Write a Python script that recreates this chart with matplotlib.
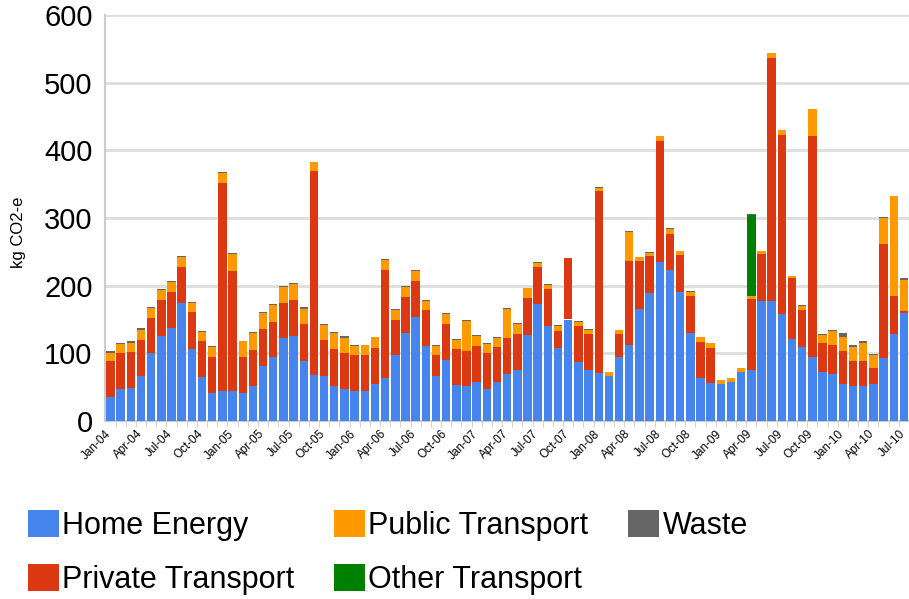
import numpy as np
import matplotlib
matplotlib.use("Agg")
import matplotlib.pyplot as plt
import matplotlib.transforms as mtrans

plt.rcParams["font.family"] = ["Liberation Sans", "DejaVu Sans"]

## monthly footprint, Jan-04 .. Jul-10 (kg CO2-e)
months = [
    "Jan-04", "Feb-04", "Mar-04", "Apr-04", "May-04", "Jun-04", "Jul-04", "Aug-04", "Sep-04", "Oct-04", "Nov-04", "Dec-04",
    "Jan-05", "Feb-05", "Mar-05", "Apr-05", "May-05", "Jun-05", "Jul-05", "Aug-05", "Sep-05", "Oct-05", "Nov-05", "Dec-05",
    "Jan-06", "Feb-06", "Mar-06", "Apr-06", "May-06", "Jun-06", "Jul-06", "Aug-06", "Sep-06", "Oct-06", "Nov-06", "Dec-06",
    "Jan-07", "Feb-07", "Mar-07", "Apr-07", "May-07", "Jun-07", "Jul-07", "Aug-07", "Sep-07", "Oct-07", "Nov-07", "Dec-07",
    "Jan-08", "Feb-08", "Mar-08", "Apr-08", "May-08", "Jun-08", "Jul-08", "Aug-08", "Sep-08", "Oct-08", "Nov-08", "Dec-08",
    "Jan-09", "Feb-09", "Mar-09", "Apr-09", "May-09", "Jun-09", "Jul-09", "Aug-09", "Sep-09", "Oct-09", "Nov-09", "Dec-09",
    "Jan-10", "Feb-10", "Mar-10", "Apr-10", "May-10", "Jun-10", "Jul-10",
]

home = [
    35, 47, 49, 66, 100, 126, 138, 175, 106, 65, 42, 45,
    45, 41, 52, 81, 94, 122, 126, 89, 68, 66, 52, 48,
    44, 44, 55, 63, 97, 130, 153, 111, 67, 90, 53, 51,
    58, 48, 57, 70, 76, 127, 173, 141, 108, 150, 87, 75,
    71, 66, 94, 113, 165, 189, 235, 223, 191, 130, 63, 56,
    55, 57, 73, 76, 177, 177, 158, 121, 110, 94, 73, 70,
    54, 52, 52, 54, 93, 128, 160,
]
private = [
    53, 53, 53, 54, 52, 53, 53, 53, 55, 53, 53, 307,
    177, 53, 53, 55, 53, 53, 53, 55, 301, 53, 55, 53,
    53, 53, 53, 160, 52, 53, 54, 53, 30, 54, 53, 53,
    53, 52, 52, 52, 52, 55, 54, 54, 25, 91, 54, 54,
    269, 1, 35, 123, 71, 55, 179, 54, 54, 54, 54, 52,
    0, 0, 0, 105, 70, 360, 265, 90, 54, 327, 42, 42,
    49, 37, 36, 25, 168, 56, 3,
]
public = [
    13, 14, 14, 15, 15, 14, 14, 14, 14, 14, 14, 14,
    25, 24, 25, 23, 25, 23, 23, 22, 14, 23, 23, 22,
    14, 15, 16, 15, 15, 15, 14, 14, 14, 14, 14, 44,
    14, 14, 14, 44, 15, 14, 6, 6, 7, 0, 5, 6,
    5, 6, 5, 43, 6, 5, 7, 7, 6, 7, 7, 7,
    6, 7, 5, 4, 4, 7, 7, 4, 6, 40, 12, 21,
    21, 20, 28, 18, 39, 149, 46,
]
other = [0] * 63 + [119] + [0] * 15
waste = [
    2, 2, 2, 2, 1.5, 2, 2, 2, 0.5, 1.5, 1.5, 2,
    2, 0, 1.5, 2, 0.5, 1.5, 2, 2, 0, 2, 2, 2,
    2, 0, 0, 2, 1.5, 1.5, 2, 1.5, 1.5, 1.5, 1.5, 1.5,
    1.5, 1.5, 1.5, 1.5, 1.5, 0, 2, 1.5, 1.5, 0, 1.5, 1.5,
    1.5, 0, 0, 1.5, 1, 1, 0, 0.5, 0.5, 1, 0, 0,
    0, 0, 0, 2, 0, 0, 0, 0, 1.5, 0, 2, 2,
    5.5, 3, 1.5, 1.5, 1.5, 0, 2,
]

tick_labels = months[::3]

series = [
    ("Home Energy", home, "#4684ee"),
    ("Private Transport", private, "#dc3912"),
    ("Public Transport", public, "#ff9900"),
    ("Other Transport", other, "#008000"),
    ("Waste", waste, "#666666"),
]

fig = plt.figure(figsize=(9.09, 5.99), dpi=100)
W, H = 909, 599
ax = fig.add_axes([105 / W, 1 - 421 / H, (W - 105) / W, 406 / H])

x = np.arange(len(months))
bottom = np.zeros(len(months))
for name, vals, col in series:
    vals = np.array(vals, dtype=float)
    ax.bar(x, vals, 0.83, bottom=bottom, color=col, label=name,
           linewidth=0, zorder=3)
    bottom += vals

ax.set_ylim(0, 600)
ax.set_xlim(-0.54, 78.05)
ax.set_yticks(range(0, 601, 100))
ax.tick_params(axis="y", length=0, labelsize=21, pad=9)
ax.yaxis.grid(True, color="#dddddd", linewidth=2, zorder=0)

ax.set_xticks(x[::3])
ax.set_xticklabels(tick_labels, rotation=45, ha="right", va="top",
                   rotation_mode="anchor", fontsize=8.5)
ax.tick_params(axis="x", length=0, pad=5)
## nudge the rotated labels so their end sits on the tick, like the original
shift = mtrans.ScaledTranslation(-5 / 100, 0, fig.dpi_scale_trans)
for lab in ax.get_xticklabels():
    lab.set_transform(lab.get_transform() + shift)
ax.set_xticks(x + 0.5, minor=True)
ax.tick_params(axis="x", which="minor", length=4, color="#cccccc")

for s in ["top", "right"]:
    ax.spines[s].set_visible(False)
for s in ["left", "bottom"]:
    ax.spines[s].set_color("#cccccc")
    ax.spines[s].set_linewidth(1.5)

fig.text(18 / W, 1 - 232 / H, "kg CO2-e", rotation=90, ha="center",
         va="center", fontsize=12)

fig.legend(loc="upper left", bbox_to_anchor=(28 / W, 1 - 510 / H), ncol=3,
           frameon=False, fontsize=22, handlelength=1.0, handleheight=1.0,
           handletextpad=0.12, columnspacing=1.3, labelspacing=0.74,
           borderpad=0, borderaxespad=0)

fig.savefig("out.png", dpi=100)
